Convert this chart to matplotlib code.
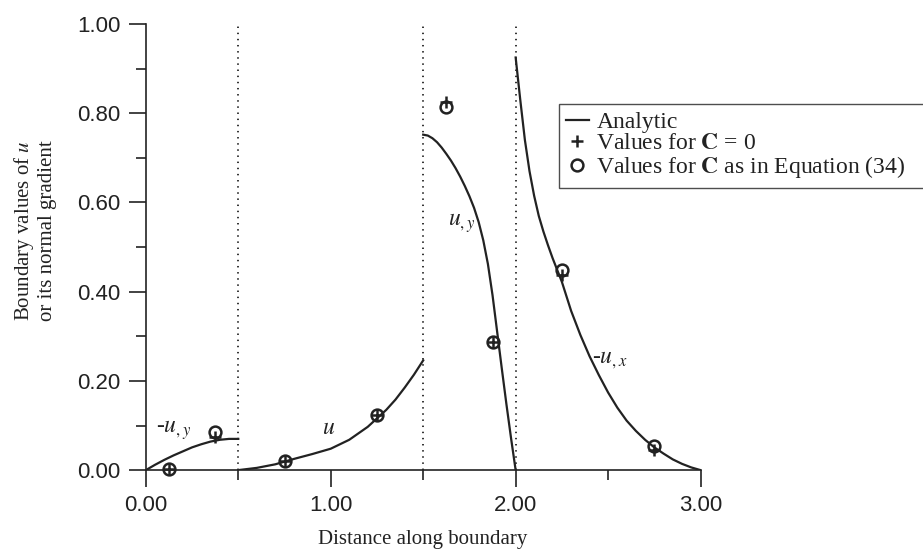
import matplotlib
matplotlib.use("Agg")
import matplotlib.pyplot as plt
from matplotlib.ticker import MultipleLocator, FormatStrFormatter

plt.rcParams['mathtext.fontset'] = 'stix'
plt.rcParams['font.family'] = 'Liberation Serif'

# analytic curves, one per boundary segment
s_a = [0, 0.05, 0.1, 0.15, 0.2, 0.25, 0.3, 0.35, 0.4, 0.45, 0.5]
v_a = [0, 0.012, 0.023, 0.033, 0.042, 0.051, 0.058, 0.064, 0.068, 0.070, 0.070]

s_b = [0.5, 0.6, 0.7, 0.8, 0.9, 1.0, 1.1, 1.2, 1.3, 1.35, 1.4, 1.45, 1.5]
v_b = [0, 0.005, 0.013, 0.025, 0.036, 0.048, 0.068, 0.097, 0.135, 0.158, 0.185, 0.214, 0.246]

s_c = [1.5, 1.525, 1.55, 1.575, 1.6, 1.625, 1.65, 1.675, 1.7, 1.725, 1.75, 1.775, 1.8,
       1.825, 1.85, 1.875, 1.9, 1.925, 1.95, 1.975, 2.0]
v_c = [0.752, 0.750, 0.744, 0.735, 0.723, 0.709, 0.694, 0.677, 0.658, 0.637, 0.614, 0.588, 0.556,
       0.515, 0.462, 0.392, 0.31, 0.228, 0.148, 0.072, 0.0]

s_d = [2.0, 2.025, 2.05, 2.075, 2.1, 2.125, 2.15, 2.175, 2.2, 2.25, 2.3, 2.35, 2.4, 2.45, 2.5,
       2.55, 2.6, 2.65, 2.7, 2.75, 2.8, 2.85, 2.9, 2.95, 3.0]
v_d = [0.925, 0.83, 0.74, 0.67, 0.615, 0.57, 0.535, 0.504, 0.475, 0.422, 0.357, 0.303, 0.255,
       0.213, 0.174, 0.14, 0.111, 0.088, 0.068, 0.051, 0.037, 0.024, 0.014, 0.006, 0.0]

# numerical values
s_pts = [0.125, 0.375, 0.75, 1.25, 1.625, 1.875, 2.25, 2.75]
v_c0 = [0.002, 0.074, 0.0195, 0.123, 0.826, 0.287, 0.437, 0.044]
v_c34 = [0.002, 0.085, 0.0195, 0.123, 0.815, 0.287, 0.448, 0.055]

seg_bounds = [0.5, 1.5, 2.0]
xticks = [0, 1, 2, 3]

fig = plt.figure(figsize=(9.23, 5.59), dpi=100)
ax = fig.add_axes([0.158, 0.159, 0.601, 0.798])

for s, v in [(s_a, v_a), (s_b, v_b), (s_c, v_c), (s_d, v_d)]:
    line, = ax.plot(s, v, color='#222222', lw=1.6, solid_joinstyle='round')
line.set_label('Analytic')

for b in seg_bounds:
    ax.axvline(b, color='#222222', lw=1.3, ls=(0, (0.8, 2.6)))

ax.plot(s_pts, v_c0, ls='none', marker='+', ms=8, mew=1.8, color='#222222',
        clip_on=False, label='Values for $\\mathbf{C}$ = 0')
ax.plot(s_pts, v_c34, ls='none', marker='o', ms=8.5, mew=1.8, mfc='none', mec='#222222',
        clip_on=False, label='Values for $\\mathbf{C}$ as in Equation (34)')

ax.set_xlim(0, 3)
ax.set_ylim(0, 1)
ax.spines['top'].set_visible(False)
ax.spines['right'].set_visible(False)
for sp in ['left', 'bottom']:
    ax.spines[sp].set_linewidth(1.2)
    ax.spines[sp].set_color('#222222')

ax.set_xticks(xticks)
ax.xaxis.set_minor_locator(MultipleLocator(0.5))
ax.yaxis.set_major_locator(MultipleLocator(0.2))
ax.yaxis.set_minor_locator(MultipleLocator(0.1))
ax.xaxis.set_major_formatter(FormatStrFormatter('%.2f'))
ax.yaxis.set_major_formatter(FormatStrFormatter('%.2f'))
ax.tick_params(which='major', length=12, width=1.2, color='#222222', pad=6)
ax.tick_params(which='minor', length=7, width=1.2, color='#222222')
for lab in ax.get_xticklabels() + ax.get_yticklabels():
    lab.set_fontfamily('Liberation Sans')
    lab.set_fontsize(16)
    lab.set_color('#222222')

lab_kw = dict(fontsize=17, color='#222222', ha='center', va='center')
ax.text(0.15, 0.089, '-$u_{,y}$', **lab_kw)
ax.text(0.99, 0.093, '$u$', **lab_kw)
ax.text(1.707, 0.553, '$u_{,y}$', **lab_kw)
ax.text(2.51, 0.246, '-$u_{,x}$', **lab_kw)

fig.text(0.458, 0.034, 'Distance along boundary', fontsize=15, color='#222222',
         ha='center', va='center')
fig.text(0.037, 0.587, 'Boundary values of $u$\nor its normal gradient', fontsize=15,
         color='#222222', rotation=90, ha='center', va='center', multialignment='center',
         linespacing=1.15)

leg = ax.legend(loc='upper left', bbox_to_anchor=(0.744, 0.62, 0.7, 0.2), mode='expand',
                fontsize=17, frameon=True, fancybox=False, handlelength=1.0,
                handletextpad=0.3, labelspacing=0.0, borderpad=0.3, borderaxespad=0)
leg.get_frame().set_edgecolor('#222222')
leg.get_frame().set_linewidth(1.0)
for t in leg.get_texts():
    t.set_color('#222222')

fig.savefig('out.png', dpi=100)
